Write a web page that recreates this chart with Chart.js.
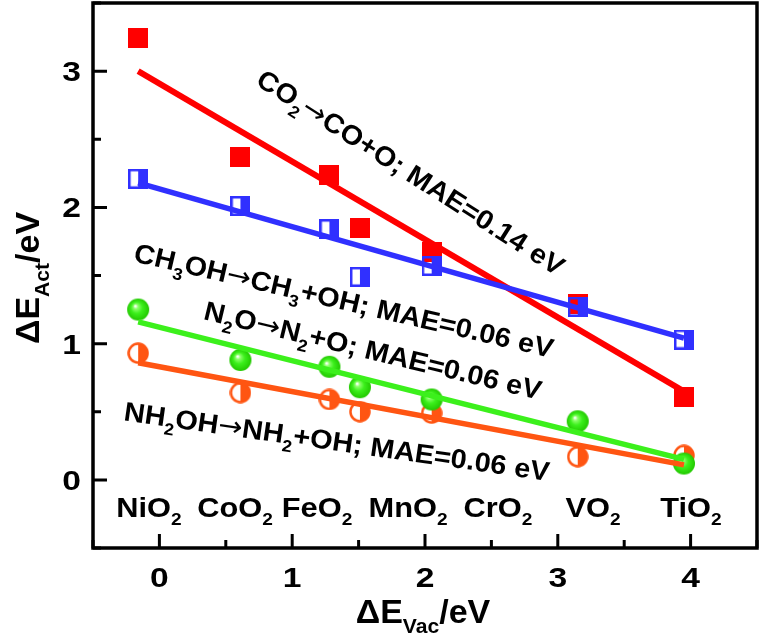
<!DOCTYPE html>
<html>
<head>
<meta charset="utf-8">
<script src="https://cdn.jsdelivr.net/npm/chart.js@4.4.1/dist/chart.umd.min.js"></script>
<style>
  html, body { margin: 0; padding: 0; background: #fff; }
  canvas { display: block; }
</style>
</head>
<body>
<canvas id="chart" width="762" height="639"></canvas>
<script>
// oxides and their vacancy formation energies (ΔE_Vac, eV)
const oxides = ["NiO", "CoO", "FeO", "MnO", "CrO", "VO", "TiO"];
const vacX = [-0.16, 0.61, 1.28, 1.51, 2.05, 3.15, 3.95];

// activation energies (ΔE_Act, eV)
const co2 = [3.24, 2.37, 2.24, 1.85, 1.67, 1.29, 0.61];
const ch3oh = [2.21, 2.01, 1.84, 1.49, 1.57, 1.27, 1.03];
const n2o = [1.25, 0.88, 0.83, 0.68, 0.59, 0.43, 0.12];
const nh2oh = [0.93, 0.64, 0.59, 0.50, 0.49, 0.17, 0.18];

// linear fits, start and end
const fitX = [-0.16, 3.95];
const co2Fit = [3.00, 0.65];
const ch3ohFit = [2.18, 1.04];
const n2oFit = [1.16, 0.15];
const nh2ohFit = [0.86, 0.11];

const xTicks = [0, 1, 2, 3, 4];
const yTicks = [0, 1, 2, 3];

const RED = "#ff0000";
const BLUE = "#3030ff";
const GREEN = "#3cf01c";
const ORANGE = "#ff5512";

function marker(size, draw) {
  const c = document.createElement("canvas");
  c.width = c.height = size;
  draw(c.getContext("2d"), size);
  return c;
}

const redSquare = marker(20, (g, s) => {
  g.fillStyle = RED;
  g.fillRect(0, 0, s, s);
});
const blueHalf = marker(20, (g, s) => {
  g.fillStyle = BLUE;
  g.fillRect(s / 2, 0, s / 2, s);
  g.strokeStyle = BLUE;
  g.lineWidth = 2.5;
  g.strokeRect(1.25, 1.25, s - 2.5, s - 2.5);
});
const greenBall = marker(24, (g, s) => {
  const r = s / 2 - 1;
  const gr = g.createRadialGradient(s * 0.38, s * 0.35, 0.5, s / 2, s / 2, r);
  gr.addColorStop(0, "#ffffff");
  gr.addColorStop(0.18, "#8cff6a");
  gr.addColorStop(0.5, "#3cf01c");
  gr.addColorStop(1, "#22c800");
  g.fillStyle = gr;
  g.beginPath();
  g.arc(s / 2, s / 2, r, 0, Math.PI * 2);
  g.fill();
});
const orangeHalf = marker(22, (g, s) => {
  const r = s / 2 - 1.5;
  g.fillStyle = ORANGE;
  g.beginPath();
  g.moveTo(s / 2, s / 2 - r);
  g.arc(s / 2, s / 2, r, -Math.PI / 2, Math.PI / 2);
  g.closePath();
  g.fill();
  g.strokeStyle = ORANGE;
  g.lineWidth = 2.5;
  g.beginPath();
  g.arc(s / 2, s / 2, r, 0, Math.PI * 2);
  g.stroke();
});

const pts = (ys) => vacX.map((x, i) => ({ x: x, y: ys[i] }));
const fit = (ys) => fitX.map((x, i) => ({ x: x, y: ys[i] }));

function scatterSet(ys, img, order) {
  return { data: pts(ys), pointStyle: img, pointRadius: 11, pointHoverRadius: 11, order: order };
}
function lineSet(ys, color, width, order) {
  return {
    data: fit(ys), showLine: true, borderColor: color, borderWidth: width,
    pointRadius: 0, pointHoverRadius: 0, order: order, borderCapStyle: "butt"
  };
}

// text with subscripts (1) and arrows ("a"), optionally rotated / stretched
function rich(ctx, runs, x, y, o) {
  const size = o.size, sub = size * 0.62;
  const font = (r) => r[1] === "a"
    ? size + "px 'DejaVu Sans', sans-serif"
    : "bold " + (r[1] ? sub : size) + "px 'Liberation Sans', Arial, sans-serif";
  ctx.save();
  ctx.translate(x, y);
  ctx.rotate(o.angle || 0);
  ctx.scale(o.sx || 1, 1);
  let w = 0;
  runs.forEach((r) => { ctx.font = font(r); w += ctx.measureText(r[0]).width; });
  let cx = o.align === "center" ? -w / 2 : o.align === "right" ? -w : 0;
  const base = o.mid ? size * 0.36 : 0;
  ctx.fillStyle = "#000";
  ctx.textAlign = "left";
  ctx.textBaseline = "alphabetic";
  runs.forEach((r) => {
    ctx.font = font(r);
    const dy = r[1] === 1 ? size * 0.3 : r[1] === "a" ? -size * 0.02 : 0;
    ctx.fillText(r[0], cx, base + dy);
    cx += ctx.measureText(r[0]).width;
  });
  ctx.restore();
}

const deg = Math.PI / 180;
const AR = ["→", "a"];
const notes = [
  { runs: [["CO"], ["2", 1], AR, ["CO+O; MAE=0.14 eV"]], x: 411, y: 172, angle: 32.5 },
  { runs: [["CH"], ["3", 1], ["OH"], AR, ["CH"], ["3", 1], ["+OH; MAE=0.06 eV"]], x: 344, y: 300, angle: 13 },
  { runs: [["N"], ["2", 1], ["O"], AR, ["N"], ["2", 1], ["+O; MAE=0.06 eV"]], x: 373, y: 350, angle: 13.5 },
  { runs: [["NH"], ["2", 1], ["OH"], AR, ["NH"], ["2", 1], ["+OH; MAE=0.06 eV"]], x: 337, y: 441, angle: 8.1 }
];
const oxideLabelX = [149, 235, 317, 408, 498, 593, 691];

const frame = {
  id: "frame",
  afterDraw(chart) {
    const { ctx, chartArea: a, scales: { x, y } } = chart;
    ctx.save();
    ctx.strokeStyle = "#000";
    ctx.lineWidth = 3.5;
    ctx.strokeRect(a.left, a.top, a.right - a.left, a.bottom - a.top);
    ctx.lineWidth = 3;
    ctx.beginPath();
    for (let v = -0.5; v <= 3.5; v += 0.5) {
      const p = y.getPixelForValue(v);
      const len = Number.isInteger(v) ? 14 : 8;
      ctx.moveTo(a.left, p); ctx.lineTo(a.left + len, p);
    }
    for (let v = -0.5; v <= 4.5; v += 0.5) {
      const p = x.getPixelForValue(v);
      const len = Number.isInteger(v) ? 14 : 8;
      ctx.moveTo(p, a.bottom); ctx.lineTo(p, a.bottom - len);
    }
    ctx.stroke();
    ctx.restore();

    yTicks.forEach((v) => rich(ctx, [[String(v)]], a.left - 12, y.getPixelForValue(v), { size: 28, sx: 1.2, align: "right", mid: true }));
    xTicks.forEach((v) => rich(ctx, [[String(v)]], x.getPixelForValue(v), 577, { size: 28, sx: 1.2, align: "center", mid: true }));

    rich(ctx, [["ΔE"], ["Vac", 1], ["/eV"]], 423, 611, { size: 34, align: "center", mid: true });
    rich(ctx, [["ΔE"], ["Act", 1], ["/eV"]], 27, 278, { size: 34, align: "center", mid: true, angle: -90 * deg });

    oxides.forEach((name, i) => rich(ctx, [[name], ["2", 1]], oxideLabelX[i], 507, { size: 28, sx: 1.1, align: "center", mid: true }));

    notes.forEach((n) => rich(ctx, n.runs, n.x, n.y, { size: 27, sx: 1.07, align: "center", mid: true, angle: n.angle * deg }));
  }
};

new Chart(document.getElementById("chart"), {
  type: "scatter",
  data: {
    datasets: [
      scatterSet(nh2oh, orangeHalf, 9),
      scatterSet(n2o, greenBall, 8),
      scatterSet(co2, redSquare, 7),
      scatterSet(ch3oh, blueHalf, 6),
      lineSet(co2Fit, RED, 6, 4),
      lineSet(ch3ohFit, BLUE, 5.5, 3),
      lineSet(n2oFit, GREEN, 5.5, 2),
      lineSet(nh2ohFit, ORANGE, 5.5, 1)
    ]
  },
  options: {
    responsive: false,
    animation: false,
    devicePixelRatio: 1,
    layout: { autoPadding: false, padding: { top: 3, right: 5, left: 0, bottom: 0 } },
    plugins: { legend: { display: false }, tooltip: { enabled: false } },
    scales: {
      x: {
        type: "linear", min: -0.5, max: 4.5,
        grid: { display: false }, border: { display: false },
        ticks: { display: false },
        afterFit: (s) => { s.height = 91; }
      },
      y: {
        type: "linear", min: -0.5, max: 3.5,
        grid: { display: false }, border: { display: false },
        ticks: { display: false },
        afterFit: (s) => { s.width = 93; }
      }
    }
  },
  plugins: [frame]
});
</script>
</body>
</html>
